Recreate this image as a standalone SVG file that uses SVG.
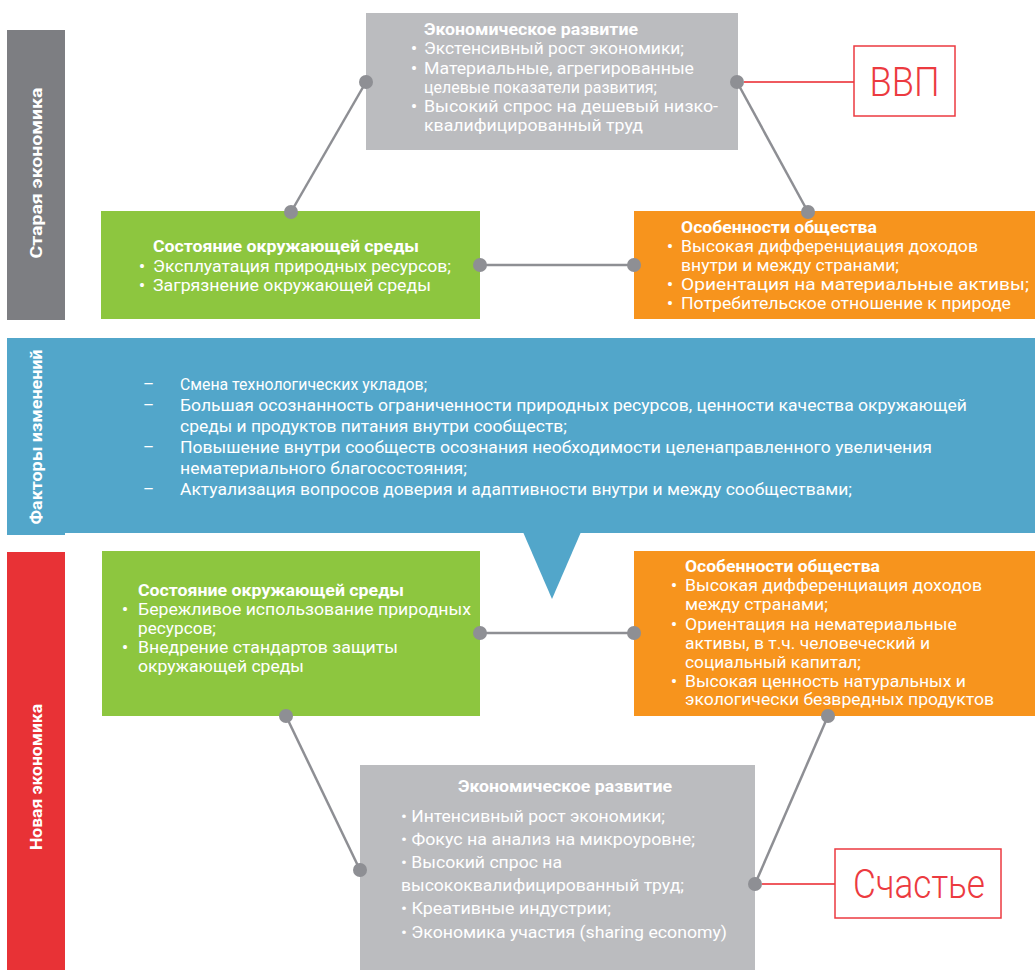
<svg xmlns="http://www.w3.org/2000/svg" width="1035" height="970" viewBox="0 0 1035 970">
<style>
.t{font-family:Roboto,"Liberation Sans",sans-serif;fill:#fff;font-size:16.5px}
.b{font-weight:bold;font-size:17px}
.c{font-family:Roboto,"Liberation Sans",sans-serif;fill:#fff;font-size:17px}
.u{font-weight:bold}
.side{font-family:Roboto,"Liberation Sans",sans-serif;fill:#fff;font-size:16px;font-weight:bold;text-anchor:middle}
.red{font-family:Roboto,"Liberation Sans",sans-serif;fill:#ec3a40;font-size:40px;font-weight:300;text-anchor:middle}
.ln{stroke:#8e8f94;stroke-width:2.5;fill:none}
.rl{stroke:#ef5a5f;stroke-width:2;fill:none}
.dot{fill:#8e8f94}
.rbox{fill:#fff;stroke:#ec3a40;stroke-width:1.5}
</style>
<rect width="1035" height="970" fill="#fff"/>
<g id="side-old">
<rect x="7" y="30" width="58" height="290" fill="#7d7e82"/>
<text class="side" transform="translate(42,173) rotate(-90)" textLength="171" lengthAdjust="spacingAndGlyphs">Старая экономика</text>
</g>
<g id="factors">
<rect x="7" y="338" width="1028" height="195" fill="#52a6ca"/>
<rect x="7" y="530" width="58" height="5" fill="#52a6ca"/>
<polygon points="523,532 581,532 552,599" fill="#52a6ca"/>
<text class="side" transform="translate(42,437) rotate(-90)" textLength="175" lengthAdjust="spacingAndGlyphs">Факторы изменений</text>
<g class="c">
<text x="143" y="390">–</text><text x="180" y="390" textLength="247" lengthAdjust="spacingAndGlyphs">Смена технологических укладов;</text>
<text x="143" y="411">–</text><text x="180" y="411" textLength="787" lengthAdjust="spacingAndGlyphs">Большая осознанность ограниченности природных ресурсов, ценности качества окружающей</text>
<text x="180" y="432" textLength="387" lengthAdjust="spacingAndGlyphs">среды и продуктов питания внутри сообществ;</text>
<text x="143" y="453">–</text><text x="180" y="453" textLength="752" lengthAdjust="spacingAndGlyphs">Повышение внутри сообществ осознания необходимости целенаправленного увеличения</text>
<text x="180" y="474" textLength="287" lengthAdjust="spacingAndGlyphs">нематериального благосостояния;</text>
<text x="143" y="495">–</text><text x="180" y="495" textLength="672" lengthAdjust="spacingAndGlyphs">Актуализация вопросов доверия и адаптивности внутри и между сообществами;</text>
</g>
</g>
<g id="side-new">
<rect x="7" y="552" width="58" height="418" fill="#e83236"/>
<text class="side" transform="translate(42,777) rotate(-90)" textLength="146" lengthAdjust="spacingAndGlyphs">Новая экономика</text>
</g>
<g id="connectors">
<line class="ln" x1="366" y1="82" x2="291" y2="212"/>
<line class="ln" x1="737" y1="82" x2="808" y2="212"/>
<line class="ln" x1="480" y1="265" x2="634" y2="265"/>
<line class="ln" x1="480" y1="633" x2="634" y2="633"/>
<line class="ln" x1="286" y1="716" x2="360" y2="870"/>
<line class="ln" x1="828" y1="716" x2="755" y2="884"/>
<line class="rl" x1="744" y1="82" x2="854" y2="82"/>
<line class="rl" x1="762" y1="884" x2="835" y2="884"/>
</g>
<g id="old-econ">
<rect x="366" y="13" width="372" height="137" fill="#bbbcbf"/>
<g class="t">
<text x="424" y="35" class="b" textLength="214" lengthAdjust="spacingAndGlyphs">Экономическое развитие</text>
<text x="411" y="54" class="u">•</text><text x="424" y="54" textLength="260" lengthAdjust="spacingAndGlyphs">Экстенсивный рост экономики;</text>
<text x="411" y="74" class="u">•</text><text x="424" y="74" textLength="270" lengthAdjust="spacingAndGlyphs">Материальные, агрегированные</text>
<text x="424" y="93" textLength="233" lengthAdjust="spacingAndGlyphs">целевые показатели развития;</text>
<text x="411" y="112" class="u">•</text><text x="424" y="112" textLength="294" lengthAdjust="spacingAndGlyphs">Высокий спрос на дешевый низко-</text>
<text x="424" y="131" textLength="219" lengthAdjust="spacingAndGlyphs">квалифицированный труд</text>
</g>
</g>
<g id="old-env">
<rect x="101" y="211" width="379" height="108" fill="#8dc63f"/>
<g class="t">
<text x="153" y="252" class="b" textLength="266" lengthAdjust="spacingAndGlyphs">Состояние окружающей среды</text>
<text x="139" y="272" class="u">•</text><text x="153" y="272" textLength="298" lengthAdjust="spacingAndGlyphs">Эксплуатация природных ресурсов;</text>
<text x="139" y="291" class="u">•</text><text x="153" y="291" textLength="278" lengthAdjust="spacingAndGlyphs">Загрязнение окружающей среды</text>
</g>
</g>
<g id="old-soc">
<rect x="634" y="211" width="401" height="108" fill="#f7941d"/>
<g class="t">
<text x="681" y="233" class="b" textLength="196" lengthAdjust="spacingAndGlyphs">Особенности общества</text>
<text x="667" y="252" class="u">•</text><text x="681" y="252" textLength="297" lengthAdjust="spacingAndGlyphs">Высокая дифференциация доходов</text>
<text x="681" y="271" textLength="218" lengthAdjust="spacingAndGlyphs">внутри и между странами;</text>
<text x="667" y="290" class="u">•</text><text x="681" y="290" textLength="348" lengthAdjust="spacingAndGlyphs">Ориентация на материальные активы;</text>
<text x="667" y="309" class="u">•</text><text x="681" y="309" textLength="330" lengthAdjust="spacingAndGlyphs">Потребительское отношение к природе</text>
</g>
</g>
<g id="gdp">
<rect class="rbox" x="854" y="46" width="101" height="70"/>
<text class="red" x="904.5" y="96" textLength="70" lengthAdjust="spacingAndGlyphs">ВВП</text>
</g>
<g id="new-env">
<rect x="102" y="551" width="378" height="165" fill="#8dc63f"/>
<g class="t">
<text x="138" y="596" class="b" textLength="266" lengthAdjust="spacingAndGlyphs">Состояние окружающей среды</text>
<text x="122" y="615" class="u">•</text><text x="138" y="615" textLength="333" lengthAdjust="spacingAndGlyphs">Бережливое использование природных</text>
<text x="138" y="634" textLength="78" lengthAdjust="spacingAndGlyphs">ресурсов;</text>
<text x="122" y="653" class="u">•</text><text x="138" y="653" textLength="260" lengthAdjust="spacingAndGlyphs">Внедрение стандартов защиты</text>
<text x="138" y="672" textLength="166" lengthAdjust="spacingAndGlyphs">окружающей среды</text>
</g>
</g>
<g id="new-soc">
<rect x="634" y="551" width="401" height="165" fill="#f7941d"/>
<g class="t">
<text x="685" y="572" class="b" textLength="195" lengthAdjust="spacingAndGlyphs">Особенности общества</text>
<text x="671" y="591" class="u">•</text><text x="685" y="591" textLength="297" lengthAdjust="spacingAndGlyphs">Высокая дифференциация доходов</text>
<text x="685" y="610" textLength="143" lengthAdjust="spacingAndGlyphs">между странами;</text>
<text x="671" y="630" class="u">•</text><text x="685" y="630" textLength="272" lengthAdjust="spacingAndGlyphs">Ориентация на нематериальные</text>
<text x="685" y="649" textLength="245" lengthAdjust="spacingAndGlyphs">активы, в т.ч. человеческий и</text>
<text x="685" y="668" textLength="176" lengthAdjust="spacingAndGlyphs">социальный капитал;</text>
<text x="671" y="687" class="u">•</text><text x="685" y="687" textLength="281" lengthAdjust="spacingAndGlyphs">Высокая ценность натуральных и</text>
<text x="685" y="705" textLength="309" lengthAdjust="spacingAndGlyphs">экологически безвредных продуктов</text>
</g>
</g>
<g id="new-econ">
<rect x="360" y="765" width="395" height="205" fill="#bbbcbf"/>
<g class="c">
<text x="565" y="792" class="b" text-anchor="middle" textLength="214" lengthAdjust="spacingAndGlyphs">Экономическое развитие</text>
<text x="401" y="822" textLength="264" lengthAdjust="spacingAndGlyphs">• Интенсивный рост экономики;</text>
<text x="401" y="845" textLength="294" lengthAdjust="spacingAndGlyphs">• Фокус на анализ на микроуровне;</text>
<text x="401" y="868" textLength="161" lengthAdjust="spacingAndGlyphs">• Высокий спрос на</text>
<text x="401" y="891" textLength="283" lengthAdjust="spacingAndGlyphs">высококвалифицированный труд;</text>
<text x="401" y="914" textLength="210" lengthAdjust="spacingAndGlyphs">• Креативные индустрии;</text>
<text x="401" y="938" textLength="326" lengthAdjust="spacingAndGlyphs">• Экономика участия (sharing economy)</text>
</g>
</g>
<g id="happiness">
<rect class="rbox" x="835" y="849" width="166" height="69"/>
<text class="red" x="919" y="898" textLength="132" lengthAdjust="spacingAndGlyphs">Счастье</text>
</g>
<g id="dots">
<circle class="dot" cx="366" cy="82" r="7"/>
<circle class="dot" cx="737" cy="82" r="7"/>
<circle class="dot" cx="291" cy="212" r="7"/>
<circle class="dot" cx="808" cy="212" r="7"/>
<circle class="dot" cx="480" cy="265" r="7"/>
<circle class="dot" cx="634" cy="265" r="7"/>
<circle class="dot" cx="480" cy="633" r="7"/>
<circle class="dot" cx="634" cy="633" r="7"/>
<circle class="dot" cx="286" cy="716" r="7"/>
<circle class="dot" cx="828" cy="716" r="7"/>
<circle class="dot" cx="360" cy="870" r="7"/>
<circle class="dot" cx="755" cy="884" r="7"/>
</g>
</svg>
